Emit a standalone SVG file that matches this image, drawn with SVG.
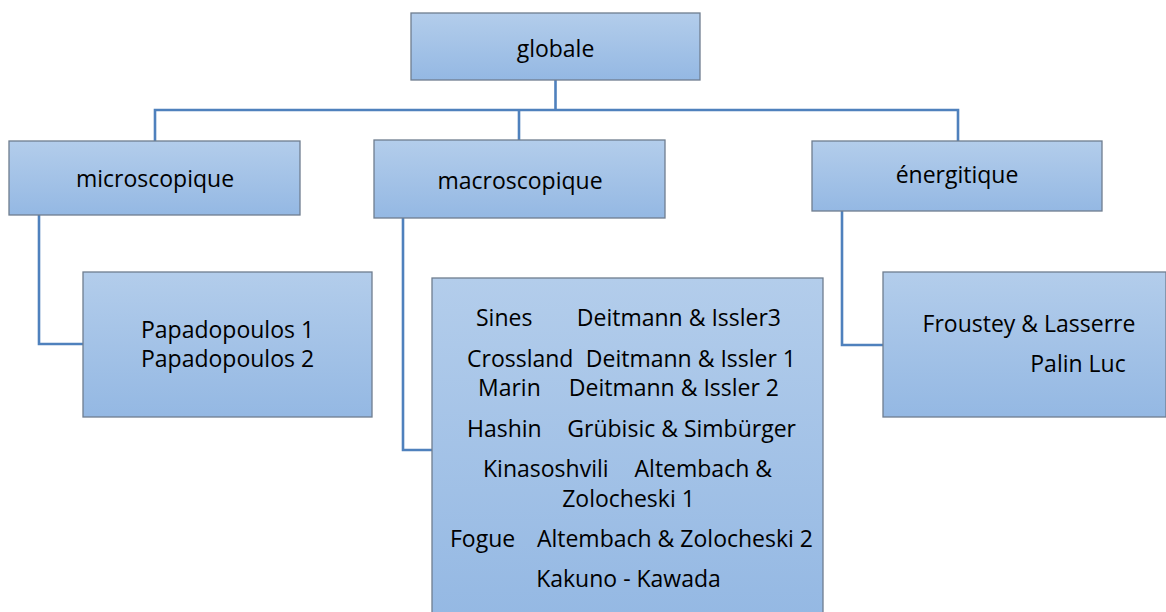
<svg xmlns="http://www.w3.org/2000/svg" width="1166" height="612" viewBox="0 0 1166 612">
<defs>
<linearGradient id="g" x1="0" y1="0" x2="0" y2="1">
<stop offset="0" stop-color="#b3cdeb"/>
<stop offset="1" stop-color="#94b8e3"/>
</linearGradient>
<style>
.box{fill:url(#g);stroke:#6f7d8f;stroke-width:1.3}
.t{font-family:"Open Sans","Liberation Sans",sans-serif;font-size:23px;fill:#000}
.m{text-anchor:middle}
.e{text-anchor:end}
.c{fill:none;stroke:#4f81bd;stroke-width:2.6}
</style>
</defs>
<rect width="1166" height="612" fill="#fff"/>
<g id="connectors">
<path class="c" d="M555.5,80 V110"/>
<path class="c" d="M155,141 V110 H958 V141"/>
<path class="c" d="M519,110 V140"/>
<path class="c" d="M39,215 V344 H83"/>
<path class="c" d="M403,218 V450 H432"/>
<path class="c" d="M842,211 V345 H883"/>
</g>
<g id="globale">
<rect class="box" x="411" y="13" width="289" height="67"/>
<text class="t m" x="555.5" y="57">globale</text>
</g>
<g id="microscopique">
<rect class="box" x="9" y="141" width="291" height="74"/>
<text class="t m" x="155" y="187">microscopique</text>
</g>
<g id="macroscopique">
<rect class="box" x="374" y="140" width="291" height="78"/>
<text class="t m" x="520" y="189">macroscopique</text>
</g>
<g id="energitique">
<rect class="box" x="812" y="141" width="290" height="70"/>
<text class="t m" x="957" y="183">énergitique</text>
</g>
<g id="papadopoulos">
<rect class="box" x="83" y="272" width="289" height="145"/>
<text class="t m" x="227.5" y="338">Papadopoulos 1</text>
<text class="t m" x="227.5" y="367">Papadopoulos 2</text>
</g>
<g id="froustey">
<rect class="box" x="883" y="272" width="283" height="145"/>
<text class="t m" x="1029" y="332">Froustey &amp; Lasserre</text>
<text class="t m" x="1078" y="372">Palin Luc</text>
</g>
<g id="macro-list">
<rect class="box" x="432" y="278" width="391" height="345"/>
<text class="t" x="476" y="326">Sines</text>
<text class="t e" x="781" y="326">Deitmann &amp; Issler3</text>
<text class="t" x="467" y="367">Crossland</text>
<text class="t e" x="796" y="367">Deitmann &amp; Issler 1</text>
<text class="t" x="478" y="396">Marin</text>
<text class="t e" x="779" y="396">Deitmann &amp; Issler 2</text>
<text class="t" x="467" y="437">Hashin</text>
<text class="t e" x="796" y="437">Grübisic &amp; Simbürger</text>
<text class="t" x="483" y="477">Kinasoshvili</text>
<text class="t e" x="772" y="477">Altembach &amp;</text>
<text class="t m" x="628.5" y="507">Zolocheski 1</text>
<text class="t" x="450" y="547">Fogue</text>
<text class="t e" x="813" y="547">Altembach &amp; Zolocheski 2</text>
<text class="t m" x="628.5" y="587">Kakuno - Kawada</text>
</g>
</svg>
